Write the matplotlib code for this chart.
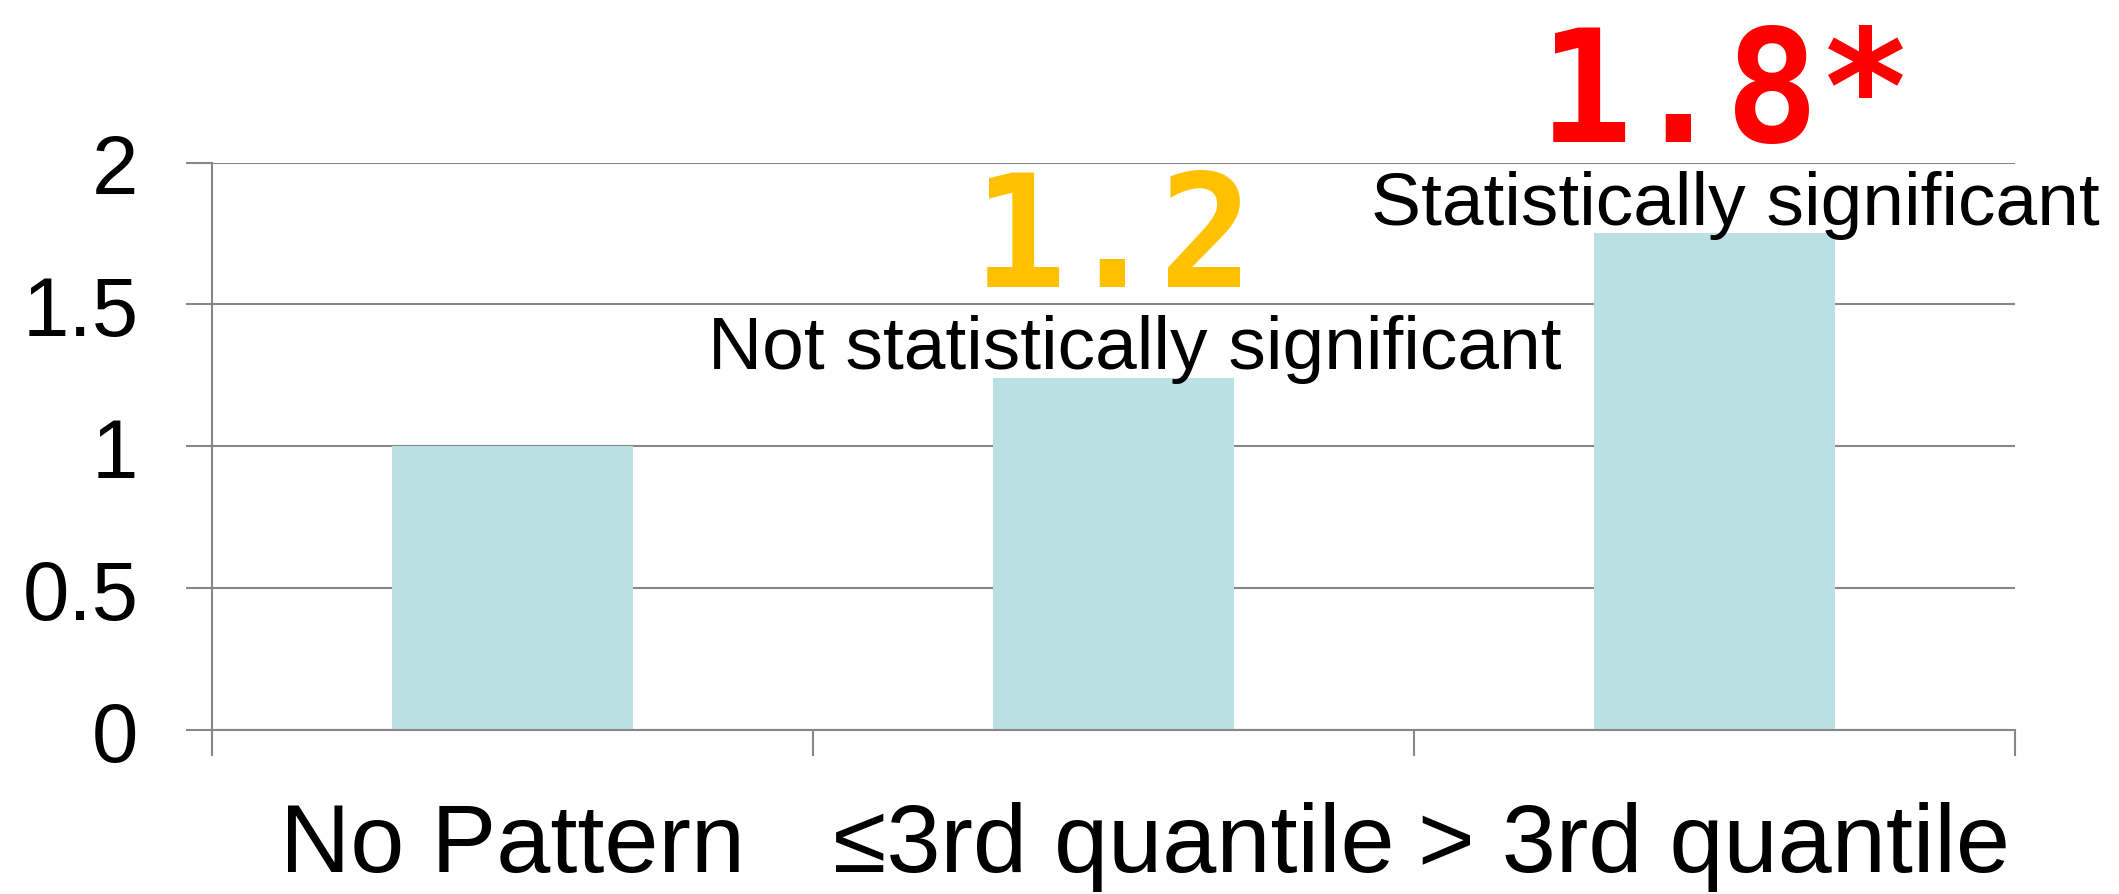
import matplotlib
matplotlib.use("Agg")
import matplotlib.pyplot as plt
from matplotlib.ticker import FixedLocator

plt.rcParams['font.family'] = ['Liberation Sans', 'DejaVu Sans']

categories = ["No Pattern", "\u22643rd quantile", "> 3rd quantile"]
odds_ratios = [1.0, 1.24, 1.75]
significance = ["", "Not statistically significant", "Statistically significant"]
value_colors = [None, "#FFC000", "#FF0000"]
value_marks = ["", "", "*"]
y_ticks = [0, 0.5, 1, 1.5, 2]
y_tick_labels = ["0", "0.5", "1", "1.5", "2"]

grid_color = "#878787"
bar_color = "#BAE0E3"

fig = plt.figure(figsize=(21.19, 8.95), dpi=100)
ax = fig.add_axes([0.1, 0.1832, 0.8509, 0.6341])

x = list(range(len(categories)))
ax.bar(x, odds_ratios, width=0.4, color=bar_color, zorder=2)

ax.set_xlim(-0.5, len(categories) - 0.5)
ax.set_ylim(0, 2)
ax.set_yticks(y_ticks)
ax.set_yticklabels(y_tick_labels, fontsize=60)
ax.set_xticks(x)
ax.set_xticklabels(categories, fontsize=70)

# category separators below the axis
ax.xaxis.set_minor_locator(FixedLocator([i - 0.5 for i in range(len(categories) + 1)]))
ax.tick_params(axis='x', which='major', length=0, pad=51)
ax.tick_params(axis='x', which='minor', length=19, width=1.5, color=grid_color)
ax.tick_params(axis='y', length=19, width=1.5, color=grid_color, pad=34)

ax.grid(axis='y', color=grid_color, linewidth=1.5, zorder=1)
for side in ['top', 'right']:
    ax.spines[side].set_visible(False)
for side in ['left', 'bottom']:
    ax.spines[side].set_color(grid_color)
    ax.spines[side].set_linewidth(1.5)

for xi, v, note, col, mark in zip(x, odds_ratios, significance, value_colors, value_marks):
    if not note:
        continue
    ax.text(xi + 0.035, v + 0.035, note, ha='center', va='baseline', fontsize=54)
    ax.text(xi + 0.02 * len(mark), v + 0.325, f"{v:.1f}{mark}", ha='center', va='baseline',
            fontsize=112, color=col, family='DejaVu Sans Mono', fontweight='bold')

fig.savefig("out.png", dpi=100)
